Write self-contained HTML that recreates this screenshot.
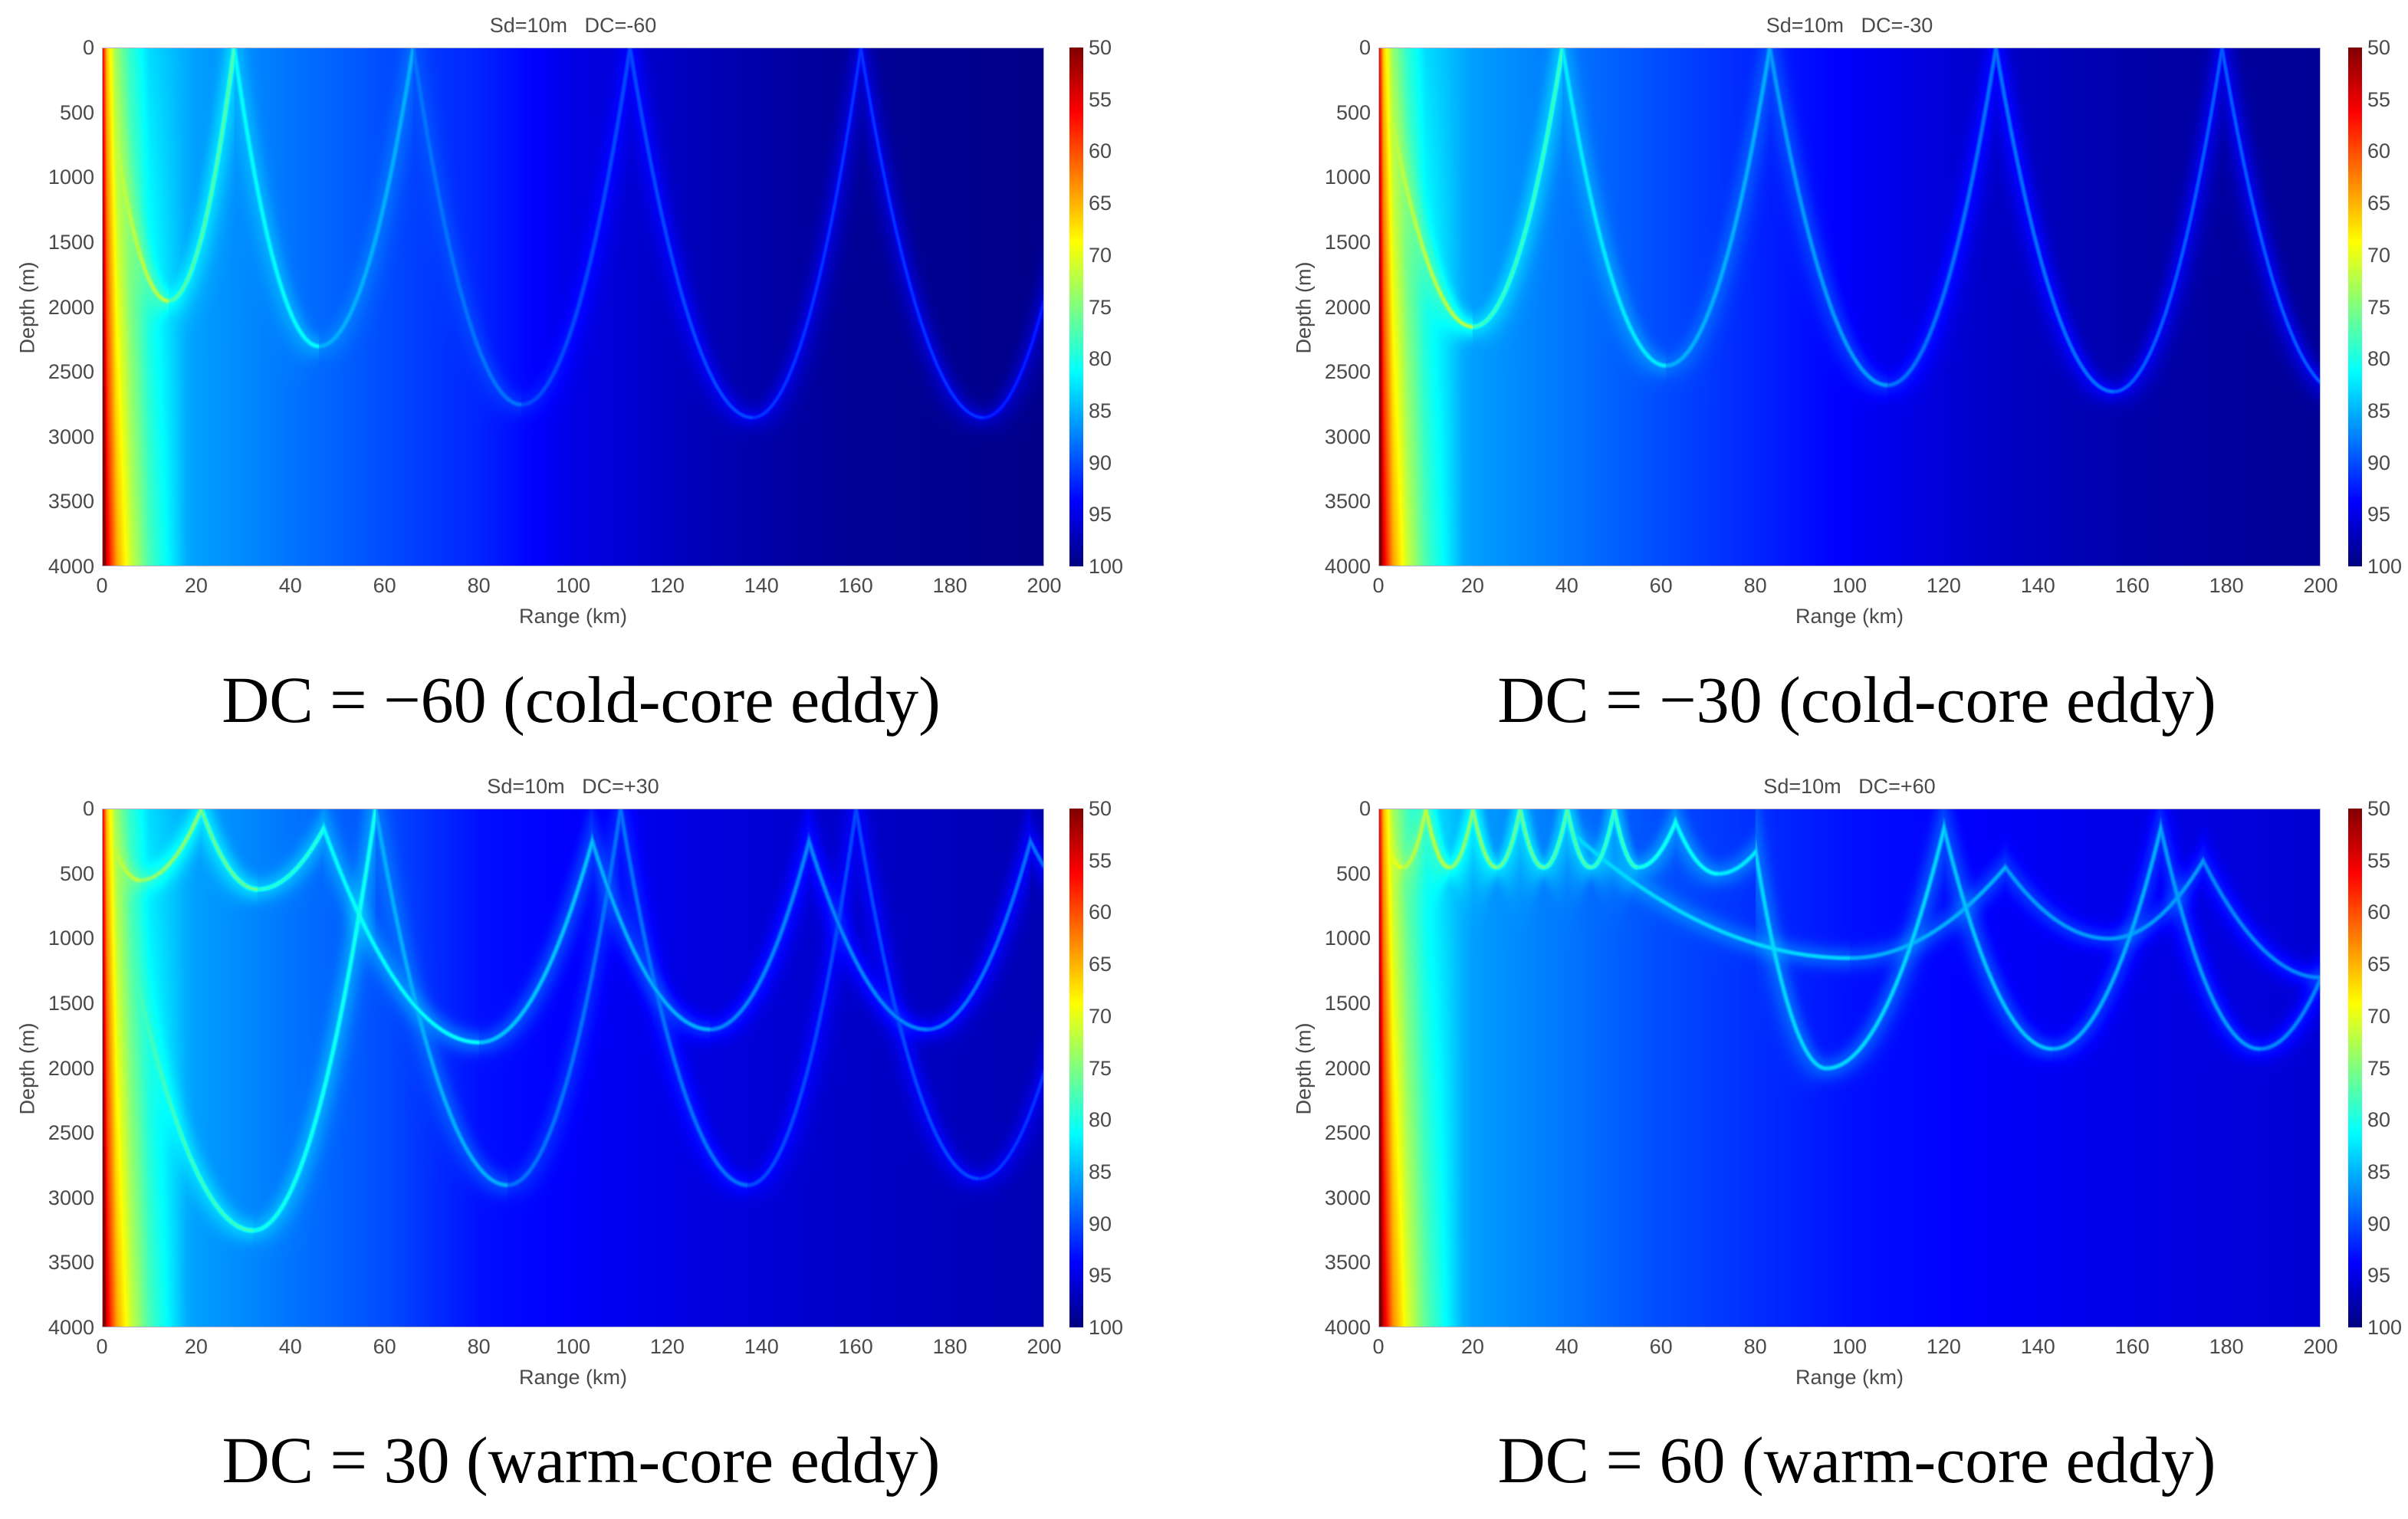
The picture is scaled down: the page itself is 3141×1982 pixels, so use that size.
<!DOCTYPE html>
<html><head><meta charset="utf-8">
<style>
html,body{margin:0;padding:0;background:#fff;}
body{width:3141px;height:1982px;position:relative;overflow:hidden;font-family:"Liberation Sans",sans-serif;}
.panel{position:absolute;left:0;top:0;}
.t{position:absolute;color:#4a4a4a;font-size:27px;white-space:pre;line-height:1;}
.cap{position:absolute;font-family:"Liberation Serif",serif;font-size:86px;color:#000;white-space:nowrap;transform:translateX(-50%);line-height:1;}
canvas{position:absolute;}
.cb{position:absolute;width:18px;background:linear-gradient(to bottom,#800000,#ff0000 12.5%,#ffff00 37.5%,#00ffff 62.5%,#0000ff 87.5%,#000080);}
</style></head>
<body>
<div id="root"></div>
<div class="cap" style="left:758px;top:870px;">DC = −60 (cold-core eddy)</div>
<div class="cap" style="left:2422px;top:870px;">DC = −30 (cold-core eddy)</div>
<div class="cap" style="left:758px;top:1862px;">DC = 30 (warm-core eddy)</div>
<div class="cap" style="left:2422px;top:1862px;">DC = 60 (warm-core eddy)</div>
<script>
// ---- data ----
const xTicks=[0,20,40,60,80,100,120,140,160,180,200];
const yTicks=[0,500,1000,1500,2000,2500,3000,3500,4000];
const cbTicks=[50,55,60,65,70,75,80,85,90,95,100];
const titles=["Sd=10m   DC=-60","Sd=10m   DC=-30","Sd=10m   DC=+30","Sd=10m   DC=+60"];
// background transmission loss vs range (km -> dB)
const bgRange=[0,1,3,6,10,20,40,60,80,100,130,160,200];
const bgTL1=[55,66,74,79,83,86,88,90,92,95,97.5,99,99.5];
const bgTL2=[55,66,74,79,83,86,88,90,92,94,96.5,98,99];
const bgTL3=[55,66,74,79,83,86,88,90,93,94,95.5,96.5,97.5];
const bgTL4=[55,65,73,78,82,86,88,90,91.5,93,94,95,96];
// ray-arch vertices [range km, depth m], alternating surface/turning points
const arcs1A=[[0,0],[14,1950],[28,0],[46,2300],[66,0],[89,2750],[112,0],[138,2850],[161,0],[187,2850],[210,0]];
const arcs1ATL=[72,77,81,85,88,90,90,91,91,92];
const arcs2A=[[0,0],[20,2150],[39,0],[61,2450],[83,0],[108,2600],[131,0],[156,2650],[179,0],[204,2650]];
const arcs2ATL=[72,78,82,85,86,88,88,89,89,89];
const arcs3A=[[0,0],[8,550],[21,0],[33,620],[47,150],[80,1800],[104,250],[129,1700],[150,250],[175,1700],[197,250],[215,900]];
const arcs3ATL=[72,74,76,79,81,84,85,87,87,88,88];
const arcs3B=[[0,0],[32,3250],[58,0],[86,2900],[110,0],[137,2900],[160,0],[186,2850],[212,0]];
const arcs3BTL=[78,80,85,88,88,90,90,91];
const arcs4A=[[0,0],[5,450],[10,0],[15,450],[20,0],[25,450],[30,0],[35,450],[40,0],[45,450],[50,0],[55,450],[63,100],[72,500],[80,330],[95,2000],[120,150],[143,1850],[166,150],[187,1850],[205,800]];
const arcs4ATL=[70,72,72,74,74,76,76,77,77,78,78,80,81,82,83,83,84,85,86,87];
const arcs4B=[[40,150],[100,1150],[133,450],[155,1000],[175,400],[200,1300]];
const arcs4BTL=[83,85,86,86,87];

const panels=[
 {ox:133,oy:62,cbx:1395,bgTL:bgTL1,fams:[[arcs1A,arcs1ATL]],title:titles[0]},
 {ox:1798,oy:62,cbx:3063,bgTL:bgTL2,fams:[[arcs2A,arcs2ATL]],title:titles[1]},
 {ox:133,oy:1055,cbx:1395,bgTL:bgTL3,fams:[[arcs3A,arcs3ATL],[arcs3B,arcs3BTL]],title:titles[2]},
 {ox:1798,oy:1055,cbx:3063,bgTL:bgTL4,fams:[[arcs4A,arcs4ATL],[arcs4B,arcs4BTL]],title:titles[3]}
];
const PW=1229, PH=677;
const xScale=r=>r/200*PW;
const yScale=z=>z/4000*PH;

function interp(xs,ys,x){
  if(x<=xs[0])return ys[0];
  for(let i=1;i<xs.length;i++){if(x<=xs[i]){const t=(x-xs[i-1])/(xs[i]-xs[i-1]);return ys[i-1]+t*(ys[i]-ys[i-1]);}}
  return ys[ys.length-1];
}
function jet(t){
  const c=v=>Math.max(0,Math.min(1,v));
  return [c(1.5-Math.abs(4*t-3))*255,c(1.5-Math.abs(4*t-2))*255,c(1.5-Math.abs(4*t-1))*255];
}
function segAt(pts,r){
  for(let i=1;i<pts.length;i++){
    if(r<=pts[i][0]&&r>=pts[i-1][0]){
      const [r0,z0]=pts[i-1],[r1,z1]=pts[i];const L=r1-r0;let z,dz;
      if(z1>z0){const u=(r1-r)/L;z=z1-(z1-z0)*u*u;dz=2*(z1-z0)*u/L;}
      else{const u=(r-r0)/L;z=z0-(z0-z1)*u*u;dz=-2*(z0-z1)*u/L;}
      return {i:i-1,z:z,dz:dz};
    }
  }
  return null;
}
const root=document.getElementById('root');
function txt(parent,s,x,y,name,extra){
  const d=document.createElement('div');d.className='t';d.textContent=s;
  d.style.left=x+'px';d.style.top=y+'px';if(extra)d.style.cssText+=extra;
  
  
  parent.appendChild(d);return d;
}
panels.forEach((p,pi)=>{
  const g=document.createElement('div');g.className='panel';
  
  
  root.appendChild(g);
  const cv=document.createElement('canvas');cv.width=PW;cv.height=PH;
  cv.style.left=p.ox+'px';cv.style.top=p.oy+'px';
  
  
  g.appendChild(cv);
  const ctx=cv.getContext('2d');const img=ctx.createImageData(PW,PH);const D=img.data;
  const kmPerPx=200/PW, mPerPx=4000/PH;
  for(let x=0;x<PW;x++){
    const r=x*kmPerPx;
    const bg=100-interp(bgRange,p.bgTL,r);
    const cols=p.fams.map(([pts,tls])=>{const s=segAt(pts,r);if(!s)return null;
      const slopePx=s.dz*(kmPerPx/mPerPx);
      return {y:yScale(s.z),f:1/Math.sqrt(1+slopePx*slopePx),a:100-tls[Math.min(s.i,tls.length-1)]};});
    for(let y=0;y<PH;y++){
      const z=y*mPerPx;
      let L=bg+12*(z/4000)*Math.max(0,1-r/18);
      for(const c of cols){if(!c)continue;const d=(y-c.y)*c.f;
        if(c.a>L){
          const core=L+(c.a-L)*Math.exp(-(d*d)/(16));
          const halo=L+0.35*(c.a-L)*Math.exp(-(d*d)/(250));
          L=Math.max(L,core,halo);}}
      const t=Math.max(0,Math.min(1,L/50));const col=jet(t);
      const k=(y*PW+x)*4;D[k]=col[0];D[k+1]=col[1];D[k+2]=col[2];D[k+3]=255;
    }
  }
  ctx.putImageData(img,0,0);
  const fr=document.createElement('div');fr.style.cssText=`position:absolute;left:${p.ox}px;top:${p.oy}px;width:${PW}px;height:${PH}px;border:1px solid #b0b0c8;box-sizing:border-box;`;
  
  
  g.appendChild(fr);
  txt(g,p.title,p.ox+PW/2,p.oy-42,'plot-title','transform:translateX(-50%);');
  xTicks.forEach(v=>{txt(g,String(v),p.ox+xScale(v),p.oy+PH+12,'x-tick-label','transform:translateX(-50%);');});
  yTicks.forEach(v=>{txt(g,String(v),p.ox-10,p.oy+yScale(v)-13,'y-tick-label','transform:translateX(-100%);');});
  txt(g,'Range (km)',p.ox+PW/2,p.oy+PH+52,'x-axis-title','transform:translateX(-50%);');
  txt(g,'Depth (m)',p.ox-97,p.oy+PH/2-13,'y-axis-title','transform:translateX(-50%) rotate(-90deg);');
  const cb=document.createElement('div');cb.className='cb';cb.style.left=p.cbx+'px';cb.style.top=p.oy+'px';cb.style.height=PH+'px';
  
  
  g.appendChild(cb);
  cbTicks.forEach(v=>{txt(g,String(v),p.cbx+25,p.oy+(v-50)/50*PH-13,'colorbar-tick-label');});
});
</script>
</body></html>
